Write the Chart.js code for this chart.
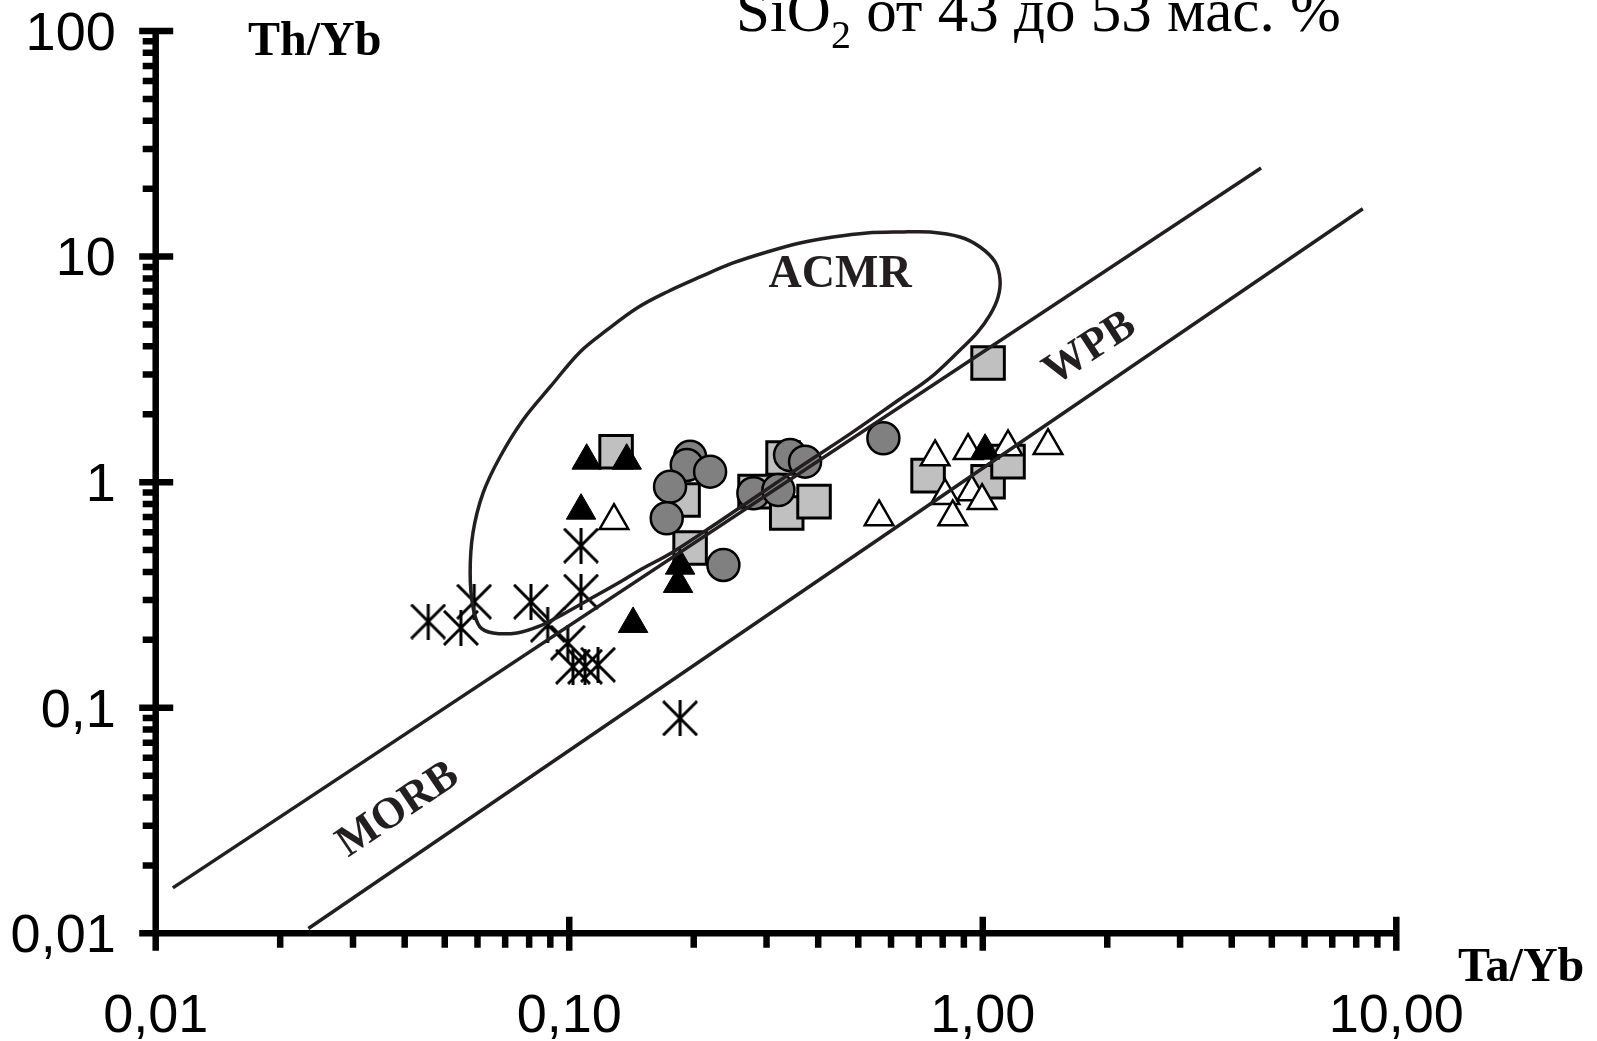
<!DOCTYPE html>
<html>
<head>
<meta charset="utf-8">
<script src="https://cdn.jsdelivr.net/npm/chart.js@4.4.1/dist/chart.umd.min.js"></script>
<style>
  html, body { margin: 0; padding: 0; background: #fff; }
  canvas { display: block; }
</style>
</head>
<body>
<canvas id="myChart" width="1597" height="1041"></canvas>
<script>
// axis ticks
const xTickValues = [0.01, 0.1, 1, 10];
const xTickLabels = ['0,01', '0,10', '1,00', '10,00'];
const yTickValues = [0.01, 0.1, 1, 10, 100];
const yTickLabels = ['0,01', '0,1', '1', '10', '100'];

// MORB-OIB array boundaries
const upperLineX = [0.0110, 4.71];
const upperLineY = [0.0159, 24.7];
const lowerLineX = [0.0234, 8.30];
const lowerLineY = [0.0105, 16.3];

// ACMR field contour
const acmrX = [0.0950, 0.1123, 0.1327, 0.1483, 0.1782, 0.2316, 0.2893, 0.3615, 0.4777, 0.6310,
  0.7459, 0.8813, 0.9687, 1.041, 1.089, 1.101, 1.071, 0.9851, 0.8813, 0.7459,
  0.6310, 0.5252, 0.4345, 0.3615, 0.3008, 0.2490, 0.2072, 0.1724, 0.1459, 0.1234,
  0.1062, 0.0899, 0.0773, 0.0680, 0.0619, 0.0585, 0.0576, 0.0585, 0.0608, 0.0654,
  0.0748, 0.0850, 0.0950];
const acmrY = [0.2552, 0.3036, 0.3611, 0.4081, 0.4905, 0.6730, 0.8867, 1.168, 1.636, 2.337,
  2.897, 3.855, 4.585, 5.509, 6.621, 7.877, 9.465, 11.03, 12.21, 12.85,
  12.85, 12.72, 12.21, 11.49, 10.48, 9.368, 8.121, 6.968, 5.918, 4.727,
  3.777, 2.642, 1.887, 1.293, 0.8956, 0.5953, 0.3958, 0.2798, 0.2282, 0.2146,
  0.2146, 0.2305, 0.2552];

// samples
const asteriskX = [0.0456, 0.0547, 0.0589, 0.0808, 0.0887, 0.1068, 0.1068, 0.0992, 0.1021, 0.1092, 0.1174, 0.1854];
const asteriskY = [0.241, 0.226, 0.295, 0.295, 0.233, 0.523, 0.327, 0.194, 0.152, 0.152, 0.155, 0.0898];

const blackTriX = [0.1102, 0.1377, 0.1068, 0.1854, 0.1833, 0.1427, 1.013];
const blackTriY = [1.245, 1.245, 0.7475, 0.4264, 0.3538, 0.2352, 1.379];

const openTriX = [0.1283, 0.7668, 0.9214, 1.151, 1.438, 0.5614, 0.8105, 0.8460, 0.9406, 0.9961];
const openTriY = [0.675, 1.293, 1.379, 1.432, 1.451, 0.7009, 0.8714, 0.7009, 0.905, 0.8279];

const squareX = [0.1298, 0.1885, 0.1960, 0.3289, 0.2814, 0.3357, 0.3908, 1.030, 0.7375, 1.030, 1.151];
const squareY = [1.365, 0.8339, 0.5110, 1.280, 0.9078, 0.7303, 0.8197, 3.376, 1.069, 1.005, 1.233];

const circleX = [0.1960, 0.1924, 0.2191, 0.1753, 0.1721, 0.2359, 0.2788, 0.3205, 0.3420, 0.3718, 0.5750];
const circleY = [1.297, 1.192, 1.113, 0.9552, 0.6918, 0.4295, 0.8928, 0.9235, 1.320, 1.233, 1.565];

// field names, placed in data coordinates
const fieldNames = [
  { text: 'ACMR', x: 0.452, y: 8.3, angle: 0 },
  { text: 'MORB', x: 0.0386, y: 0.0352, angle: -34 },
  { text: 'WPB', x: 1.818, y: 3.894, angle: -33 }
];

const toPoints = (xs, ys) => xs.map((x, i) => ({ x: x, y: ys[i] }));

function makeAsterisk(size, lw) {
  const c = document.createElement('canvas');
  c.width = size;
  c.height = size;
  const g = c.getContext('2d');
  g.strokeStyle = '#000';
  g.lineWidth = lw;
  g.beginPath();
  g.moveTo(size / 2, 0);
  g.lineTo(size / 2, size);
  g.moveTo(1, 1);
  g.lineTo(size - 1, size - 1);
  g.moveTo(size - 1, 1);
  g.lineTo(1, size - 1);
  g.stroke();
  return c;
}

// thick axis lines, major ticks on both sides, minor ticks outside
const axisPlugin = {
  id: 'axisPlugin',
  afterDraw(chart) {
    const ctx = chart.ctx;
    const xs = chart.scales.x;
    const ys = chart.scales.y;
    const left = xs.getPixelForValue(xs.min);
    const right = xs.getPixelForValue(xs.max);
    const bottom = ys.getPixelForValue(ys.min);
    const top = ys.getPixelForValue(ys.max);
    ctx.save();
    ctx.strokeStyle = '#000';
    ctx.lineWidth = 6.5;
    ctx.beginPath();
    ctx.moveTo(left, top - 3);
    ctx.lineTo(left, bottom);
    ctx.moveTo(left, bottom);
    ctx.lineTo(right + 3, bottom);

    for (let i = 0; i < yTickValues.length; i++) {
      const p = ys.getPixelForValue(yTickValues[i]);
      ctx.moveTo(left - 16.5, p);
      ctx.lineTo(left + 17.5, p);
      if (i < yTickValues.length - 1) {
        for (let k = 2; k <= 9; k++) {
          const q = ys.getPixelForValue(yTickValues[i] * k);
          ctx.moveTo(left - 13, q);
          ctx.lineTo(left, q);
        }
      }
    }
    for (let i = 0; i < xTickValues.length; i++) {
      const p = xs.getPixelForValue(xTickValues[i]);
      ctx.moveTo(p, bottom - 16.5);
      ctx.lineTo(p, bottom + 17.5);
      if (i < xTickValues.length - 1) {
        for (let k = 2; k <= 9; k++) {
          const q = xs.getPixelForValue(xTickValues[i] * k);
          ctx.moveTo(q, bottom);
          ctx.lineTo(q, bottom + 14.5);
        }
      }
    }
    ctx.stroke();
    ctx.restore();
  }
};

const textPlugin = {
  id: 'textPlugin',
  afterDraw(chart) {
    const ctx = chart.ctx;
    const xs = chart.scales.x;
    const ys = chart.scales.y;
    ctx.save();
    ctx.fillStyle = '#000';
    ctx.textAlign = 'left';
    ctx.textBaseline = 'alphabetic';
    ctx.font = 'bold 48px "Liberation Serif"';
    ctx.fillText('Th/Yb', 248, 55);
    ctx.fillText('Ta/Yb', 1458, 981);

    // title with subscript
    const tx = 736;
    ctx.font = '61px "Liberation Serif"';
    ctx.fillText('SiO', tx, 31);
    const w1 = ctx.measureText('SiO').width;
    ctx.font = '40px "Liberation Serif"';
    ctx.fillText('2', tx + w1, 48);
    const w2 = ctx.measureText('2').width;
    ctx.font = '61px "Liberation Serif"';
    ctx.fillText(' от 43 до 53 мас. %', tx + w1 + w2, 31);

    ctx.fillStyle = '#231f20';
    ctx.textAlign = 'center';
    ctx.textBaseline = 'middle';
    fieldNames.forEach(f => {
      ctx.save();
      ctx.translate(xs.getPixelForValue(f.x), ys.getPixelForValue(f.y));
      ctx.rotate(f.angle * Math.PI / 180);
      ctx.font = f.angle === 0 ? 'bold 46px "Liberation Serif"' : 'bold 44px "Liberation Serif"';
      ctx.fillText(f.text, 0, 0);
      ctx.restore();
    });
    ctx.restore();
  }
};

const lineStyle = {
  showLine: true,
  pointRadius: 0,
  borderColor: '#231f20',
  borderWidth: 3.5,
  fill: false
};

new Chart(document.getElementById('myChart'), {
  type: 'scatter',
  data: {
    datasets: [
      Object.assign({ label: 'upper', data: toPoints(upperLineX, upperLineY), order: 0 }, lineStyle),
      Object.assign({ label: 'lower', data: toPoints(lowerLineX, lowerLineY), order: 0 }, lineStyle),
      Object.assign({ label: 'ACMR', data: toPoints(acmrX, acmrY), tension: 0.35, order: 0 }, lineStyle),
      {
        label: 'asterisk',
        data: toPoints(asteriskX, asteriskY),
        pointStyle: makeAsterisk(36, 3),
        pointRadius: 12,
        order: 1
      },
      {
        label: 'black triangles',
        data: toPoints(blackTriX, blackTriY),
        pointStyle: 'triangle',
        pointRadius: 17,
        backgroundColor: '#000',
        borderColor: '#000',
        borderWidth: 1,
        order: 2
      },
      {
        label: 'open triangles',
        data: toPoints(openTriX, openTriY),
        pointStyle: 'triangle',
        pointRadius: 16.5,
        backgroundColor: '#fff',
        borderColor: '#000',
        borderWidth: 2.5,
        order: 3
      },
      {
        label: 'circles',
        data: toPoints(circleX, circleY),
        pointStyle: 'circle',
        pointRadius: 16,
        backgroundColor: '#808080',
        borderColor: '#000',
        borderWidth: 2.5,
        order: 4
      },
      {
        label: 'squares',
        data: toPoints(squareX, squareY),
        pointStyle: 'rect',
        pointRadius: 23,
        backgroundColor: '#c0c0c0',
        borderColor: '#000',
        borderWidth: 3,
        order: 5
      }
    ]
  },
  options: {
    responsive: false,
    animation: false,
    devicePixelRatio: 1,
    layout: { padding: { top: 31, right: 200.7, bottom: 0, left: 0 } },
    plugins: {
      legend: { display: false },
      tooltip: { enabled: false }
    },
    scales: {
      x: {
        type: 'logarithmic',
        position: 'bottom',
        min: 0.01,
        max: 10,
        grid: { display: false },
        border: { display: false },
        afterBuildTicks: s => { s.ticks = xTickValues.map(v => ({ value: v })); },
        afterFit: s => {
          s.height = 107.7;
          s.paddingLeft = 0;
          s.paddingRight = 0;
        },
        ticks: {
          autoSkip: false,
          maxRotation: 0,
          minRotation: 0,
          padding: 43,
          color: '#000',
          font: { family: '"Liberation Sans", Arial', size: 54 },
          callback: v => {
            const i = xTickValues.findIndex(t => Math.abs(t - v) / t < 1e-6);
            return i >= 0 ? xTickLabels[i] : '';
          }
        }
      },
      y: {
        type: 'logarithmic',
        position: 'left',
        min: 0.01,
        max: 100,
        grid: { display: false },
        border: { display: false },
        afterBuildTicks: s => { s.ticks = yTickValues.map(v => ({ value: v })); },
        afterFit: s => {
          s.width = 155.7;
          s.paddingTop = 0;
          s.paddingBottom = 0;
        },
        ticks: {
          autoSkip: false,
          padding: 32,
          labelOffset: 4,
          color: '#000',
          font: { family: '"Liberation Sans", Arial', size: 54 },
          callback: v => {
            const i = yTickValues.findIndex(t => Math.abs(t - v) / t < 1e-6);
            return i >= 0 ? yTickLabels[i] : '';
          }
        }
      }
    }
  },
  plugins: [axisPlugin, textPlugin]
});
</script>
</body>
</html>
